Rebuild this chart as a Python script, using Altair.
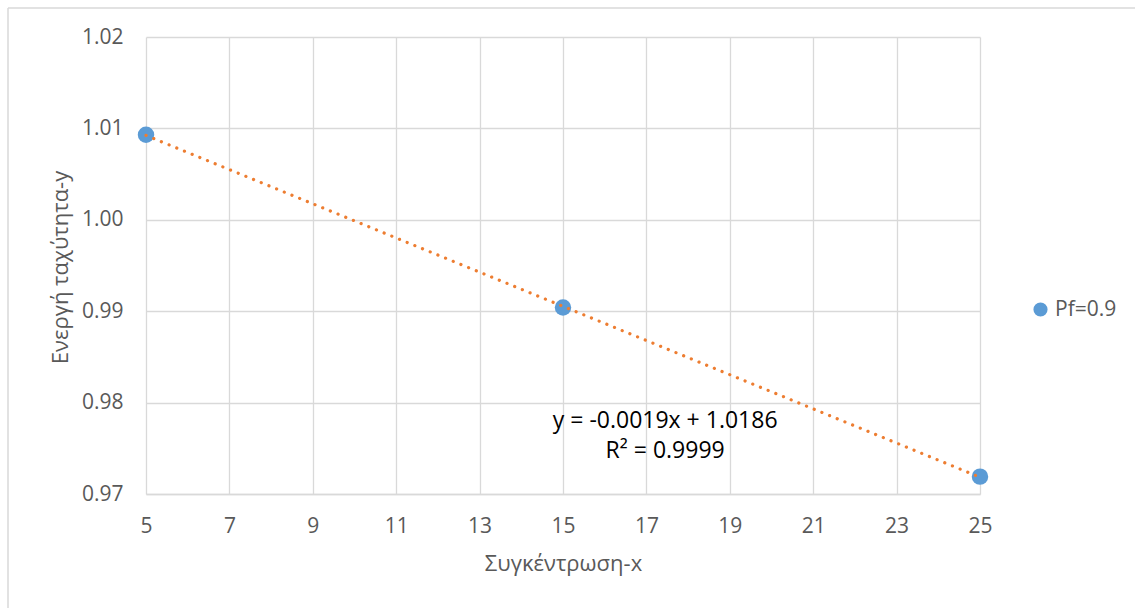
import altair as alt
import pandas as pd

# ---- data ----
x_vals = [5, 15, 25]
y_vals = [1.0093, 0.9904, 0.9719]
series_name = "Pf=0.9"
x_ticks = [5, 7, 9, 11, 13, 15, 17, 19, 21, 23, 25]
y_ticks = [0.97, 0.98, 0.99, 1.00, 1.01, 1.02]
eq_text = ["y = -0.0019x + 1.0186", "R² = 0.9999"]
eq_pos_x = [17.45, 17.45]
eq_pos_y = [0.9780, 0.9747]

df = pd.DataFrame({"x": x_vals, "y": y_vals, "s": [series_name] * len(x_vals)})
eq_df = pd.DataFrame({"x": eq_pos_x, "y": eq_pos_y, "t": eq_text})

FONT = "Open Sans"
GRID = "#D9D9D9"
LABEL = "#595959"

W, H = 834, 457

x_scale = alt.Scale(domain=[5, 25], nice=False, zero=False)
y_scale = alt.Scale(domain=[0.97, 1.02], nice=False, zero=False)

x_axis = alt.Axis(values=x_ticks, title="Συγκέντρωση-x", grid=True, tickSize=0,
                  labelPadding=21, labelFlush=False, titleY=69, titleBaseline="middle",
                  domainColor=GRID, domainWidth=1.5)
y_axis = alt.Axis(values=y_ticks, format=".2f", title="Ενεργή ταχύτητα-y", grid=True,
                  tickSize=0, labelPadding=23, domain=False, labelFlush=False,
                  titleX=-86, titleY=230, titleBaseline="middle", titleAlign="center")

points = alt.Chart(df).mark_circle(size=270, opacity=1).encode(
    x=alt.X("x:Q", scale=x_scale, axis=x_axis),
    y=alt.Y("y:Q", scale=y_scale, axis=y_axis),
    color=alt.Color("s:N", scale=alt.Scale(range=["#5B9BD5"]),
                    legend=alt.Legend(title=None, orient="none", legendX=884, legendY=262,
                                      symbolType="circle", symbolSize=200, padding=0,
                                      labelFontSize=21, labelColor=LABEL, labelFont=FONT,
                                      labelOffset=4, symbolStrokeWidth=0)),
)

trend = alt.Chart(df).transform_regression("x", "y", extent=[5, 25]).mark_line(
    color="#ED7D31", strokeDash=[0.1, 8.2], strokeCap="round", strokeWidth=3.2
).encode(
    x=alt.X("x:Q", scale=x_scale),
    y=alt.Y("y:Q", scale=y_scale),
)

eq = alt.Chart(eq_df).mark_text(fontSize=23, font=FONT, color="#000000",
                                align="center", baseline="middle").encode(
    x=alt.X("x:Q", scale=x_scale),
    y=alt.Y("y:Q", scale=y_scale),
    text="t:N",
)

frame_df = pd.DataFrame({"a": [0]})
top_border = alt.Chart(frame_df).mark_rule(color=GRID, strokeWidth=1.5).encode(
    x=alt.value(-138), x2=alt.value(1100), y=alt.value(-29)
)
left_border = alt.Chart(frame_df).mark_rule(color=GRID, strokeWidth=1.5).encode(
    x=alt.value(-138), y=alt.value(-29), y2=alt.value(700)
)

chart = alt.layer(top_border, left_border, points, trend, eq).properties(
    width=W, height=H,
    autosize=alt.AutoSizeParams(type="none"),
    padding={"left": 146, "top": 37, "right": 155, "bottom": 114},
    background="white",
).configure_view(stroke="transparent").configure_axis(
    gridColor=GRID, gridWidth=1.3,
    labelFont=FONT, labelFontSize=21, labelColor=LABEL,
    titleFont=FONT, titleFontSize=22, titleColor=LABEL, titleFontWeight="normal",
)

chart.save("out.html", embed_options={"renderer": "svg", "actions": False})
